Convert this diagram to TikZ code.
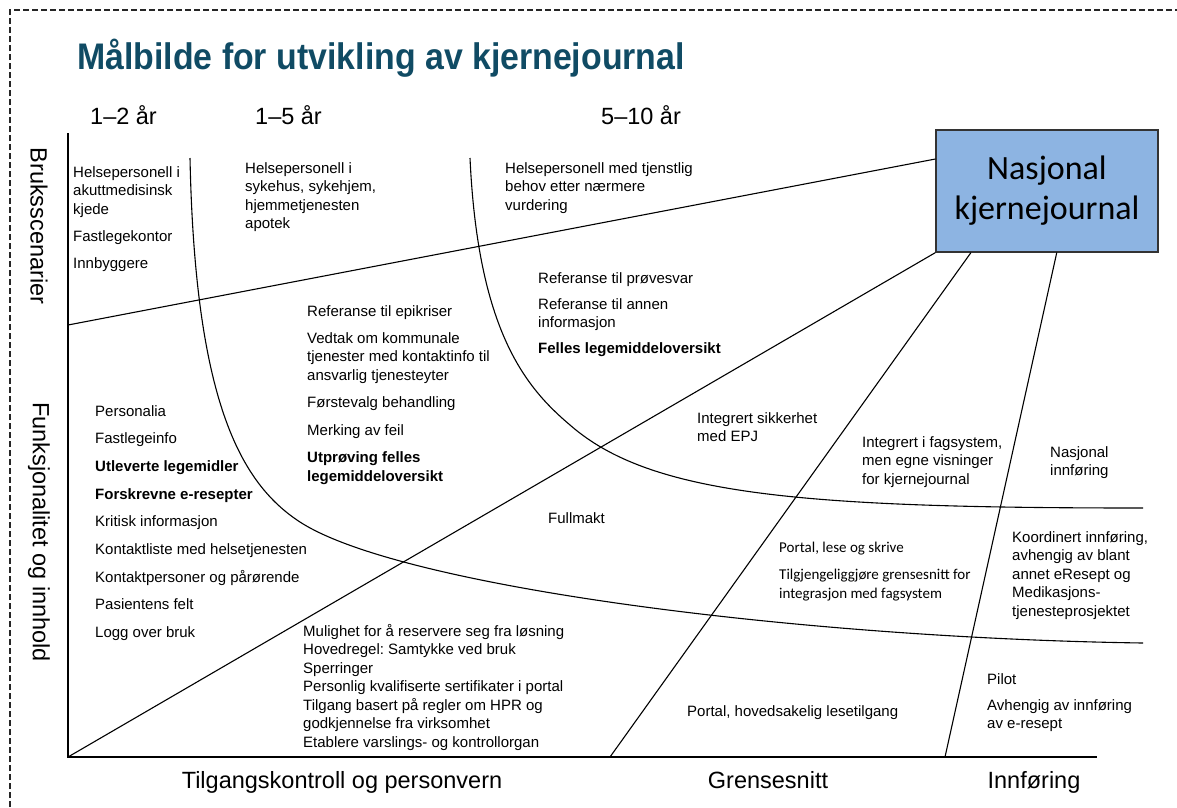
\documentclass[tikz,border=0pt]{standalone}
\usepackage{fontspec}
\setmainfont{Liberation Sans}
\newfontfamily\calibri{Carlito}
\usetikzlibrary{positioning}
\definecolor{titleColor}{RGB}{16,75,100}
\definecolor{boxColor}{RGB}{141,180,226}
\colorlet{frameColor}{black!85}
\frenchspacing
\tikzset{
  item/.style={anchor=north west, inner sep=0pt, align=left, font=\fontsize{15}{18.5}\selectfont},
  axislabel/.style={inner sep=0pt, font=\fontsize{23.5}{28}\selectfont},
  divider/.style={line width=1.1pt},
}

\begin{document}
\begin{tikzpicture}[x=1pt,y=-1pt]
    \useasboundingbox (0,0) rectangle (1177,807);
    \draw [frameColor,line width=1.8pt,dash pattern=on 6pt off 3pt] (10,807) -- (10,10) -- (1177,10);

    \node [anchor=west,inner sep=0pt,text=titleColor,font=\fontsize{37}{42}\selectfont\bfseries] (title) at (77,58)
      {\scalebox{0.915}[1]{Målbilde for utvikling av kjernejournal}};

    \node [axislabel,anchor=west] (short) at (90,115) {1–2 år};
    \node [axislabel,anchor=west] (medium) at (255,115) {1–5 år};
    \node [axislabel,anchor=west] (long) at (601,115) {5–10 år};

    \node [axislabel,rotate=-90] (scenarios) at (39,226) {Bruksscenarier};
    \node [axislabel,rotate=-90] (content) at (39,532) {Funksjonalitet og innhold};

    \node [axislabel,anchor=base] (access) at (342,788) {Tilgangskontroll og personvern};
    \node [axislabel,anchor=base] (interface) at (768,788) {Grensesnitt};
    \node [axislabel,anchor=base] (rollout) at (1034,788) {Innføring};

    \node [draw=black!80,line width=1.2pt,fill=boxColor,minimum width=222pt,minimum height=122pt,
      align=center,font=\calibri\fontsize{34}{40}\selectfont] (kj) at (1047,191) {Nasjonal\\kjernejournal};

    \coordinate (ytop) at (68,133);
    \coordinate (origin) at (68,757);
    \coordinate (xend) at (1097,757);
    \coordinate (split) at (68,325);
    \coordinate (gfoot) at (610,757);
    \coordinate (ifoot) at (945,757);

    \draw [divider] (ytop) -- (origin) -- (xend);
    \draw [divider] (split) -- (kj.164);
    \draw [divider] (origin) -- (kj.south west);
    \draw [divider] (gfoot) -- (kj.219);
    \draw [divider] (ifoot) -- (kj.279);

    \draw [divider] (190,158) .. controls (195,400) and (240,483) .. (300,522)
      .. controls (400,587) and (800,638) .. (1143,643);
    \draw [divider] (470,158) .. controls (478,330) and (525,387) .. (570,425)
      .. controls (650,495) and (800,508) .. (1143,508);

    \node [item] (users1) at (73,166) {Helsepersonell i\\akuttmedisinsk\\kjede\\[8.5pt]Fastlegekontor\\[8.5pt]Innbyggere};
    \node [item] (users2) at (245,162) {Helsepersonell i\\sykehus, sykehjem,\\hjemmetjenesten\\apotek};
    \node [item] (users3) at (505,162) {Helsepersonell med tjenstlig\\behov etter nærmere\\vurdering};

    \node [item] (func1) at (95,405) {Personalia\\[9.2pt]Fastlegeinfo\\[9.2pt]\textbf{Utleverte legemidler}\\[9.2pt]%
      \textbf{Forskrevne e-resepter}\\[9.2pt]Kritisk informasjon\\[9.2pt]Kontaktliste med helsetjenesten\\[9.2pt]%
      Kontaktpersoner og pårørende\\[9.2pt]Pasientens felt\\[9.2pt]Logg over bruk};
    \node [item] (func2) at (307,305) {Referanse til epikriser\\[8.5pt]Vedtak om kommunale\\tjenester med kontaktinfo til\\%
      ansvarlig tjenesteyter\\[9pt]Førstevalg behandling\\[9pt]Merking av feil\\[9pt]\textbf{Utprøving felles}\\%
      \textbf{legemiddeloversikt}};
    \node [item] (func3) at (538,272) {Referanse til prøvesvar\\[7.5pt]Referanse til annen\\informasjon\\[7.5pt]%
      \textbf{Felles legemiddeloversikt}};

    \node [item] (acc1) at (697,412) {Integrert sikkerhet\\med EPJ};
    \node [item] (acc2) at (548,512) {Fullmakt};
    \node [item] (acc3) at (303,624) {Mulighet for å reservere seg fra løsning\\Hovedregel: Samtykke ved bruk\\Sperringer\\%
      Personlig kvalifiserte sertifikater i portal\\Tilgang basert på regler om HPR og\\godkjennelse fra virksomhet\\%
      Etablere varslings- og kontrollorgan};

    \node [item] (int1) at (862,436) {Integrert i fagsystem,\\men egne visninger\\for kjernejournal};
    \node [item,font=\calibri\fontsize{15}{18.5}\selectfont] (int2) at (779,542) {Portal, lese og skrive\\[8.5pt]%
      Tilgjengeliggjøre grensesnitt for\\integrasjon med fagsystem};
    \node [item] (int3) at (687,705) {Portal, hovedsakelig lesetilgang};

    \node [item] (intro1) at (1050,446) {Nasjonal\\innføring};
    \node [item] (intro2) at (1012,531) {Koordinert innføring,\\avhengig av blant\\annet eResept og\\Medikasjons-\\tjenesteprosjektet};
    \node [item] (intro3) at (987,673) {Pilot\\[7.5pt]Avhengig av innføring\\av e-resept};
\end{tikzpicture}
\end{document}
